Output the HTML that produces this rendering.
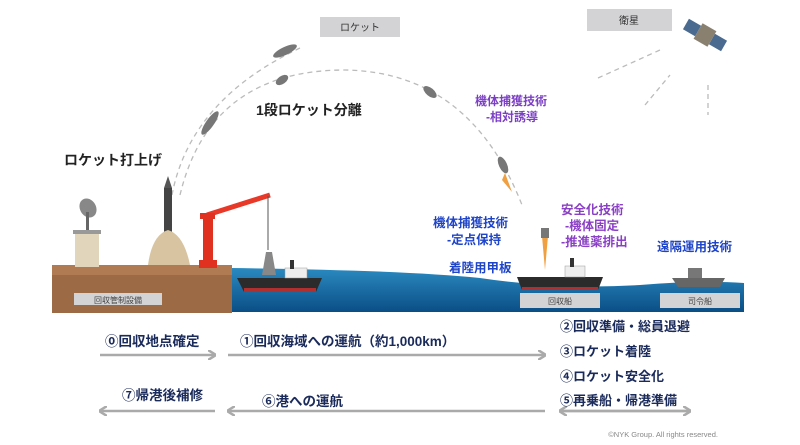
<!DOCTYPE html>
<html><head><meta charset="utf-8"><style>
html,body{margin:0;padding:0;background:#fff;}
svg{display:block;font-family:"Liberation Sans","Noto Sans CJK JP",sans-serif;}
.b{font-weight:bold;}
</style></head><body>
<svg width="800" height="445" viewBox="0 0 800 445" xmlns="http://www.w3.org/2000/svg">
<defs>
<marker id="ah" markerWidth="8" markerHeight="10" refX="7" refY="5" orient="auto" markerUnits="userSpaceOnUse">
<path d="M0,0 L8,5 L0,10" fill="none" stroke="#aaa" stroke-width="2.5"/></marker>
<linearGradient id="sea" x1="0" y1="0" x2="0" y2="1"><stop offset="0" stop-color="#2a8ac0"/><stop offset="1" stop-color="#0b4e86"/></linearGradient>
</defs>
<rect x="320" y="17" width="80" height="20" fill="#d3d3d6"/>
<text x="360" y="31" font-size="10" text-anchor="middle" fill="#333">ロケット</text>
<rect x="587" y="9" width="85" height="22" fill="#d3d3d6"/>
<text x="629" y="24" font-size="10" text-anchor="middle" fill="#333">衛星</text>
<path d="M172,195 Q190,100 300,48" fill="none" stroke="#bbb" stroke-width="1.3" stroke-dasharray="5,4"/>
<path d="M180,195 Q210,70 345,70 Q470,72 522,205" fill="none" stroke="#bbb" stroke-width="1.3" stroke-dasharray="5,4"/>
<path d="M598,78 L660,50 M645,105 L670,75 M708,85 L708,115" stroke="#bbb" stroke-width="1.3" stroke-dasharray="5,4"/>
<g transform="translate(705,35) rotate(30)"><rect x="-22" y="-6" width="14" height="12" fill="#4a6a90"/><rect x="8" y="-6" width="14" height="12" fill="#4a6a90"/><rect x="-8" y="-9" width="16" height="18" fill="#8a8070"/></g>
<g fill="#777"><ellipse cx="285" cy="51" rx="13" ry="4" transform="rotate(-25 285 51)"/><ellipse cx="282" cy="80" rx="7" ry="4" transform="rotate(-35 282 80)"/><ellipse cx="430" cy="92" rx="8" ry="4" transform="rotate(40 430 92)"/><ellipse cx="210" cy="123" rx="14" ry="4" transform="rotate(-55 210 123)"/><ellipse cx="503" cy="165" rx="9" ry="4" transform="rotate(65 503 165)"/></g>
<path d="M505,173 L512,192 L502,180 Z" fill="#f0a040"/>
<text x="64" y="165" font-size="14" class="b" fill="#222">ロケット打上げ</text>
<text x="256" y="115" font-size="14" class="b" fill="#222">1段ロケット分離</text>
<text x="475" y="105" font-size="12" class="b" fill="#7b3fc4">機体捕獲技術</text>
<text x="486" y="121" font-size="12" class="b" fill="#7b3fc4">-相対誘導</text>
<text x="433" y="227" font-size="12.5" class="b" fill="#1e44c8">機体捕獲技術</text>
<text x="447" y="244" font-size="12.5" class="b" fill="#1e44c8">-定点保持</text>
<text x="449" y="272" font-size="12.5" class="b" fill="#1e44c8">着陸用甲板</text>
<text x="561" y="214" font-size="12.5" class="b" fill="#8a3fc4">安全化技術</text>
<text x="565" y="230" font-size="12.5" class="b" fill="#8a3fc4">-機体固定</text>
<text x="561" y="246" font-size="12.5" class="b" fill="#8a3fc4">-推進薬排出</text>
<text x="657" y="251" font-size="12.5" class="b" fill="#1e44c8">遠隔運用技術</text>
<path d="M230,268 Q400,270 480,278 Q560,290 640,285 Q700,280 744,283 L744,312 L230,312 Z" fill="url(#sea)"/>
<rect x="52" y="265" width="180" height="48" fill="#9c6a45"/>
<rect x="52" y="265" width="180" height="10" fill="#b07b52"/>
<rect x="74" y="293" width="88" height="12" fill="#d3d3d6"/>
<text x="118" y="303" font-size="8" text-anchor="middle" fill="#444">回収管制設備</text>
<rect x="75" y="232" width="24" height="35" fill="#e1d5bc"/><rect x="73" y="230" width="28" height="4" fill="#999"/>
<ellipse cx="88" cy="208" rx="8" ry="10" fill="#888" transform="rotate(-30 88 208)"/><rect x="86" y="212" width="3" height="18" fill="#666"/>
<rect x="164" y="188" width="8" height="45" fill="#444"/><path d="M164,188 L168,176 L172,188 Z" fill="#555"/>
<path d="M148,265 Q152,235 168,230 Q184,235 190,265 Z" fill="#d8c4a0"/>
<rect x="203" y="218" width="10" height="48" fill="#e03020"/><rect x="199" y="260" width="18" height="8" fill="#e03020"/>
<path d="M207,215 L270,195" stroke="#e83828" stroke-width="5"/><rect x="200" y="213" width="15" height="6" fill="#e03020"/>
<line x1="268" y1="196" x2="268" y2="250" stroke="#555" stroke-width="1"/>
<path d="M262,275 L266,252 L272,252 L276,275 Z" fill="#888"/>
<path d="M237,278 L322,278 L316,292 L244,292 Z" fill="#2b2b2b"/><rect x="244" y="288" width="72" height="4" fill="#b03030"/>
<rect x="285" y="268" width="22" height="10" fill="#eee" stroke="#999" stroke-width="0.5"/><rect x="290" y="260" width="4" height="9" fill="#333"/>
<path d="M517,277 L603,277 L598,290 L522,290 Z" fill="#2b2b2b"/><rect x="522" y="287" width="76" height="3" fill="#b03030"/>
<rect x="565" y="266" width="20" height="11" fill="#eee" stroke="#999" stroke-width="0.5"/><rect x="570" y="258" width="4" height="9" fill="#333"/>
<path d="M542,236 L548,236 L545,270 Z" fill="#f0a040"/><rect x="541" y="228" width="8" height="10" fill="#777"/>
<path d="M672,278 L725,278 L720,287 L678,287 Z" fill="#666"/><rect x="688" y="268" width="14" height="10" fill="#777"/>
<rect x="520" y="293" width="80" height="15" fill="#d3d3d6"/>
<text x="560" y="304" font-size="8" text-anchor="middle" fill="#444">回収船</text>
<rect x="660" y="293" width="80" height="15" fill="#d3d3d6"/>
<text x="700" y="304" font-size="8" text-anchor="middle" fill="#444">司令船</text>
<g stroke="#aaa" stroke-width="2.5" fill="none">
<line x1="100" y1="355" x2="215" y2="355" marker-end="url(#ah)"/>
<line x1="228" y1="355" x2="545" y2="355" marker-end="url(#ah)"/>
<line x1="545" y1="411" x2="228" y2="411" marker-end="url(#ah)"/>
<line x1="215" y1="411" x2="100" y2="411" marker-end="url(#ah)"/>
<line x1="560" y1="411" x2="690" y2="411" marker-end="url(#ah)"/>
<line x1="690" y1="411" x2="560" y2="411" marker-end="url(#ah)"/>
</g>
<g class="b" fill="#1a2a5a">
<text x="105" y="346" font-size="13.5">⓪回収地点確定</text>
<text x="240" y="346" font-size="13.5">①回収海域への運航（約1,000km）</text>
<text x="560" y="331" font-size="13">②回収準備・総員退避</text>
<text x="560" y="356" font-size="13">③ロケット着陸</text>
<text x="560" y="381" font-size="13">④ロケット安全化</text>
<text x="560" y="405" font-size="13">⑤再乗船・帰港準備</text>
<text x="262" y="406" font-size="13.5">⑥港への運航</text>
<text x="122" y="400" font-size="13.5">⑦帰港後補修</text>
</g>
<text x="718" y="437" font-size="7.5" text-anchor="end" fill="#888">©NYK Group. All rights reserved.</text>
</svg>
</body></html>
